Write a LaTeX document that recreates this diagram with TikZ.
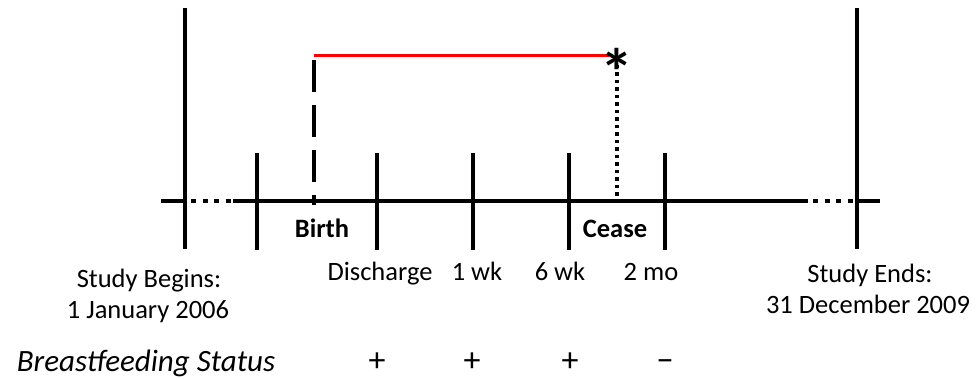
\documentclass[tikz,border=0pt]{standalone}
\usepackage{fontspec}
\setmainfont{Carlito}
\begin{document}
\begin{tikzpicture}[x=1pt,y=-1pt,
  lbl/.style={font=\fontsize{26.5}{31}\selectfont, inner sep=0pt, anchor=base},
  boldlbl/.style={lbl, font=\fontsize{26.5}{31}\selectfont\bfseries},
  statuslbl/.style={lbl, font=\fontsize{31}{36}\selectfont\itshape},
  signlbl/.style={lbl, font=\fontsize{34}{36}\selectfont},
  axisline/.style={line width=4pt, black},
  gapline/.style={line width=4pt, black, dash pattern=on 5pt off 6.5pt},
  bigbar/.style={line width=4pt, black},
  tickbar/.style={line width=4pt, black},
  birthline/.style={line width=4pt, black, dash pattern=on 32pt off 13pt},
  ceaseline/.style={line width=4pt, black, dash pattern=on 3.5pt off 4pt},
  followup/.style={line width=3pt, red}]
\useasboundingbox (0,0) rectangle (976,379);

% time axis with breaks at both ends
\coordinate (axL) at (161,201);
\coordinate (gapL1) at (185,201);
\coordinate (gapL2) at (233,201);
\coordinate (gapR1) at (808,201);
\coordinate (gapR2) at (857,201);
\coordinate (axR) at (880,201);
\draw[axisline] (axL) -- (gapL1);
\draw[gapline] (191,201) -- (gapL2);
\draw[axisline] (gapL2) -- (gapR1);
\draw[gapline] (813,201) -- (gapR2);
\draw[axisline] (gapR2) -- (axR);

% study window bounds
\coordinate (beginT) at (185,8);
\coordinate (beginB) at (185,249);
\coordinate (endT) at (857,8);
\coordinate (endB) at (857,249);
\draw[bigbar] (beginT) -- (beginB);
\draw[bigbar] (endT) -- (endB);

% follow-up ticks
\foreach \n/\x in {t0/257, dis/377, wk1/473, wk6/569, mo2/665} {
  \coordinate (\n T) at (\x,153);
  \coordinate (\n B) at (\x,250);
  \draw[tickbar] (\n T) -- (\n B);
}

% birth and cessation markers
\coordinate (birthT) at (314,60);
\coordinate (birthB) at (314,205);
\draw[birthline] (birthT) -- (birthB);
\coordinate (redL) at (314,56);
\coordinate (redR) at (609,56);
\draw[followup] (redL) -- (redR);
\coordinate (ceaseT) at (617,65);
\coordinate (ceaseB) at (617,199);
\draw[ceaseline] (ceaseT) -- (ceaseB);
\node[font=\fontsize{66}{66}\selectfont\bfseries, inner sep=0pt, anchor=base] (star) at (617,96) {*};

% labels on the axis
\node[boldlbl] (birth) at (322,237) {Birth};
\node[boldlbl] (cease) at (615,237) {Cease};

\node[lbl] (begin1) at (149,287) {Study Begins:};
\node[lbl] (begin2) at (148,318) {1 January 2006};
\node[lbl] (end1) at (870,282) {Study Ends:};
\node[lbl] (end2) at (868,313) {31 December 2009};

\node[lbl] (discharge) at (380,280) {Discharge};
\node[lbl] (oneweek) at (477,280) {1 wk};
\node[lbl] (sixweek) at (560,280) {6 wk};
\node[lbl] (twomonth) at (651,280) {2 mo};

% breastfeeding status row
\node[statuslbl] (status) at (146,371) {Breastfeeding Status};
\node[signlbl] (s1) at (377,371) {+};
\node[signlbl] (s2) at (472,371) {+};
\node[signlbl] (s3) at (570,371) {+};
\node[signlbl] (s4) at (665,371) {−};
\end{tikzpicture}
\end{document}
